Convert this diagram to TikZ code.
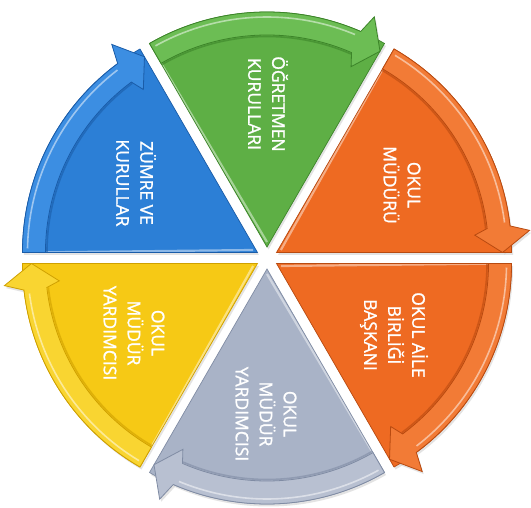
\documentclass[tikz,border=0pt]{standalone}
\usepackage{fontspec}
\setmainfont{Open Sans}
\newfontfamily\lblfont[FakeBold=1.3]{Open Sans}
\definecolor{grnF}{HTML}{5EAF45}
\definecolor{grnB}{HTML}{6CBD54}
\definecolor{grnD}{HTML}{3C8429}
\definecolor{orgF}{HTML}{EE6A22}
\definecolor{orgB}{HTML}{F27B36}
\definecolor{orgD}{HTML}{B84A10}
\definecolor{bluF}{HTML}{2C7FD6}
\definecolor{bluB}{HTML}{3C8EE2}
\definecolor{bluD}{HTML}{1A5CA8}
\definecolor{ylwF}{HTML}{F6C915}
\definecolor{ylwB}{HTML}{F9D531}
\definecolor{ylwD}{HTML}{CFA000}
\definecolor{gryF}{HTML}{A9B3C7}
\definecolor{gryB}{HTML}{B8C0D1}
\definecolor{gryD}{HTML}{808CA4}
\begin{document}
\begin{tikzpicture}[x=1pt,y=1pt,
  lbl/.style={text=white, font=\lblfont\fontsize{17.5}{24}\selectfont, align=center, rotate=-90, inner sep=0pt},
  shadowfill/.style={fill=black!18}]
\useasboundingbox (0,0) rectangle (531,507);
\fill[white] (0,0) rectangle (531,507);
\coordinate (C) at (267,249);
\foreach \m/\fc/\bc/\dc in {90/grnF/grnB/grnD, 30/orgF/orgB/orgD, -30/orgF/orgB/orgD, -90/gryF/gryB/gryD, -150/ylwF/ylwB/ylwD, 150/bluF/bluB/bluD}{
  \pgfmathsetmacro\a{\m+30}
  \pgfmathsetmacro\b{\m-30}
  \pgfmathsetmacro\bb{\m-30+6.5}
  \pgfmathsetmacro\bw{\m-30+5}
  \begin{scope}[shift={(C)}, shift={(\m:11)}]
    % soft shadow
    \begin{scope}[shift={(1.5,-2.5)}]
      \fill[shadowfill, opacity=.6] (0,0) -- (\a:235) arc[start angle=\a, end angle=\b, radius=235] -- cycle;
      \fill[shadowfill, opacity=.6] (\bb:235) -- (\bw:254) -- (\b:226) -- cycle;
    \end{scope}
    % wedge body
    \fill[\fc] (0,0) -- (\a:235) arc[start angle=\a, end angle=\b, radius=235] -- cycle;
    \draw[white, opacity=.45, line width=2.2] (\m:5) -- (\a:228);
    \draw[\dc, line width=.7] (0,0) -- (\a:235) arc[start angle=\a, end angle=\b, radius=235] -- cycle;
    % arrow band
    \fill[\bc] (\a:212) arc[start angle=\a, end angle=\bb, radius=212]
      -- (\bw:199) -- (\b:226) -- (\bw:254) -- (\bb:235)
      arc[start angle=\bb, end angle=\a, radius=235] -- cycle;
    \draw[white, opacity=.5, line width=1.6] (\a-1:230) arc[start angle=\a-1, end angle=\bb+1, radius=230];
    \draw[\dc, line width=.8] (\a:212) arc[start angle=\a, end angle=\bb, radius=212]
      -- (\bw:199) -- (\b:226) -- (\bw:254) -- (\bb:235)
      arc[start angle=\bb, end angle=\a, radius=235] -- cycle;
    \draw[\dc, opacity=.6, line width=1.6] (\a:210.5) arc[start angle=\a, end angle=\bb, radius=210.5];
  \end{scope}
}
\node[lbl] (ogr) at (268,403) {ÖĞRETMEN\\KURULLARI};
\node[lbl] (mdr) at (402,322) {OKUL\\MÜDÜRÜ};
\node[lbl] (aile) at (394,172) {OKUL AİLE\\BİRLİĞİ\\BAŞKANI};
\node[lbl] (ydr1) at (266,93) {OKUL\\MÜDÜR\\YARDIMCISI};
\node[lbl] (ydr2) at (134,174) {OKUL\\MÜDÜR\\YARDIMCISI};
\node[lbl] (zmr) at (136,324) {ZÜMRE VE\\KURULLAR};
\end{tikzpicture}
\end{document}
